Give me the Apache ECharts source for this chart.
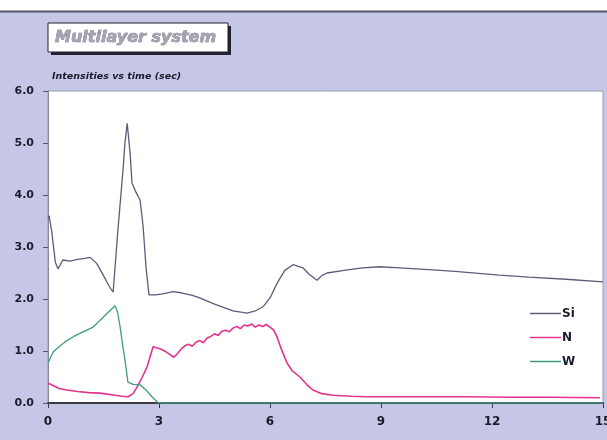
<!DOCTYPE html>
<html><head><meta charset="utf-8">
<script src="https://cdn.jsdelivr.net/npm/echarts@6/dist/echarts.min.js"></script>
<style>html,body{margin:0;padding:0;background:#fff}#c{width:607px;height:440px}</style>
</head><body><div id="c"></div>
<script>
var xTicks = [0, 3, 6, 9, 12, 15];
var yTicks = [0, 1, 2, 3, 4, 5, 6];
var seriesNames = ['Si', 'N', 'W'];

var siTime = [0, 0.03, 0.1, 0.2, 0.27, 0.4, 0.6, 0.8, 1.0, 1.14, 1.32, 1.5, 1.65, 1.76, 1.89, 2.03, 2.08, 2.14, 2.16, 2.22, 2.27, 2.38, 2.49, 2.57, 2.65, 2.73, 2.9, 3.1, 3.38, 3.6, 3.9, 4.1, 4.5, 5.0, 5.38, 5.6, 5.81, 6.0, 6.19, 6.4, 6.62, 6.89, 7.05, 7.27, 7.4, 7.54, 8.0, 8.5, 8.97, 9.5, 10.4, 11.0, 12.2, 13.0, 14.0, 15.0];
var siVal  = [3.55, 3.6, 3.3, 2.7, 2.58, 2.75, 2.73, 2.76, 2.78, 2.8, 2.68, 2.45, 2.25, 2.13, 3.33, 4.5, 5.0, 5.38, 5.35, 4.8, 4.23, 4.05, 3.9, 3.4, 2.6, 2.08, 2.08, 2.1, 2.14, 2.12, 2.07, 2.02, 1.9, 1.77, 1.73, 1.77, 1.85, 2.02, 2.3, 2.55, 2.66, 2.6, 2.48, 2.36, 2.45, 2.5, 2.55, 2.6, 2.62, 2.6, 2.56, 2.53, 2.46, 2.42, 2.38, 2.33];

var nTime = [0, 0.1, 0.3, 0.51, 0.8, 1.1, 1.41, 1.6, 1.81, 2.0, 2.16, 2.3, 2.41, 2.55, 2.68, 2.84, 3.0, 3.1, 3.2, 3.3, 3.4, 3.5, 3.6, 3.7, 3.8, 3.9, 4.0, 4.1, 4.2, 4.3, 4.4, 4.5, 4.6, 4.7, 4.8, 4.9, 5.0, 5.1, 5.2, 5.3, 5.4, 5.5, 5.6, 5.7, 5.8, 5.9, 6.0, 6.1, 6.19, 6.3, 6.46, 6.6, 6.81, 7.0, 7.16, 7.4, 7.7, 8.2, 8.62, 9.5, 10.5, 11.3, 12.5, 13.5, 14.92];
var nVal  = [0.38, 0.35, 0.28, 0.25, 0.22, 0.2, 0.19, 0.17, 0.15, 0.13, 0.12, 0.18, 0.31, 0.5, 0.7, 1.08, 1.05, 1.02, 0.98, 0.93, 0.88, 0.95, 1.04, 1.1, 1.13, 1.09, 1.17, 1.2, 1.16, 1.25, 1.28, 1.33, 1.3, 1.38, 1.4, 1.37, 1.44, 1.47, 1.43, 1.5, 1.48, 1.52, 1.46, 1.5, 1.47, 1.51, 1.46, 1.4, 1.27, 1.05, 0.77, 0.62, 0.5, 0.35, 0.25, 0.18, 0.15, 0.13, 0.12, 0.12, 0.12, 0.12, 0.11, 0.11, 0.1];

var wTime = [0, 0.14, 0.3, 0.51, 0.7, 0.86, 1.05, 1.22, 1.35, 1.49, 1.65, 1.81, 1.88, 1.95, 2.02, 2.08, 2.16, 2.3, 2.49, 2.65, 2.81, 2.97, 3.2, 15.0];
var wVal  = [0.77, 0.98, 1.08, 1.2, 1.28, 1.34, 1.4, 1.46, 1.55, 1.65, 1.76, 1.87, 1.75, 1.46, 1.1, 0.83, 0.4, 0.36, 0.35, 0.25, 0.12, 0.01, 0.0, 0.0];

function zip(a, b) { return a.map(function (v, i) { return [v, b[i]]; }); }

var chart = echarts.init(document.getElementById('c'));
var wideFam = '"DejaVu Sans", Verdana, sans-serif';
chart.setOption({
  backgroundColor: '#c6c6e6',
  animation: false,
  grid: { left: 48, top: 91, right: 4, bottom: 37, show: true, backgroundColor: '#ffffff', borderColor: '#9a9aa8', borderWidth: 1, outerBoundsMode: 'none', containLabel: false },
  xAxis: {
    type: 'value', min: 0, max: 15, interval: 3,
    axisLine: { show: true, lineStyle: { color: '#3c3c48', width: 2 } },
    axisTick: { show: true, length: 5, lineStyle: { color: '#3c3c48' } },
    splitLine: { show: false },
    axisLabel: { margin: 13, fontFamily: wideFam, fontWeight: 'bold', fontSize: 12, color: '#1a1a2a', showMaxLabel: true, showMinLabel: true }
  },
  yAxis: {
    type: 'value', min: 0, max: 6, interval: 1,
    axisLine: { show: true, lineStyle: { color: '#8a8a98', width: 1 } },
    axisTick: { show: true, length: 5, lineStyle: { color: '#555566' } },
    splitLine: { show: false },
    axisLabel: { margin: 14, fontFamily: wideFam, fontWeight: 'bold', fontSize: 11, color: '#1a1a2a',
      formatter: function (v) { return v.toFixed(1); } }
  },
  legend: {
    orient: 'vertical', left: 525, top: 301, itemWidth: 31, itemHeight: 1.5, itemGap: 9, icon: 'rect',
    data: seriesNames,
    textStyle: { fontFamily: wideFam, fontWeight: 'bold', fontSize: 12, color: '#1a1a2a', padding: [0, 0, 0, -4], lineHeight: 15 }
  },
  graphic: [
    { type: 'rect', shape: { x: 0, y: 0, width: 607, height: 11 }, style: { fill: '#ffffff' }, z: 10 },
    { type: 'line', shape: { x1: 0, y1: 11.5, x2: 607, y2: 11.5 }, style: { stroke: '#55556e', lineWidth: 2 }, z: 10 },
    { type: 'rect', shape: { x: 51, y: 26, width: 180, height: 29 }, style: { fill: '#222230' }, z: 10 },
    { type: 'rect', shape: { x: 48, y: 23, width: 180, height: 29 }, style: { fill: '#ffffff', stroke: '#222230', lineWidth: 1 }, z: 11 },
    { type: 'text', x: 55, y: 37.5, z: 12,
      style: { text: 'Multilayer system', fontFamily: wideFam, fontStyle: 'italic', fontWeight: 'bold', fontSize: 16,
        fill: '#a4a4b4', stroke: '#4a4a5c', lineWidth: 0.5, verticalAlign: 'middle' } },
    { type: 'text', x: 52, y: 77, z: 12,
      style: { text: 'Intensities vs time (sec)', fontFamily: wideFam, fontStyle: 'italic', fontWeight: 'bold', fontSize: 9.5,
        fill: '#1a1a2a', verticalAlign: 'middle' } }
  ],
  series: [
    { name: 'Si', type: 'line', data: zip(siTime, siVal), symbol: 'none', lineStyle: { color: '#5c5c7a', width: 1.3 }, itemStyle: { color: '#5c5c7a' } },
    { name: 'N', type: 'line', data: zip(nTime, nVal), symbol: 'none', lineStyle: { color: '#e2348e', width: 1.6 }, itemStyle: { color: '#e2348e' } },
    { name: 'W', type: 'line', data: zip(wTime, wVal), symbol: 'none', lineStyle: { color: '#3f9c80', width: 1.3 }, itemStyle: { color: '#3f9c80' } }
  ]
});
</script></body></html>
